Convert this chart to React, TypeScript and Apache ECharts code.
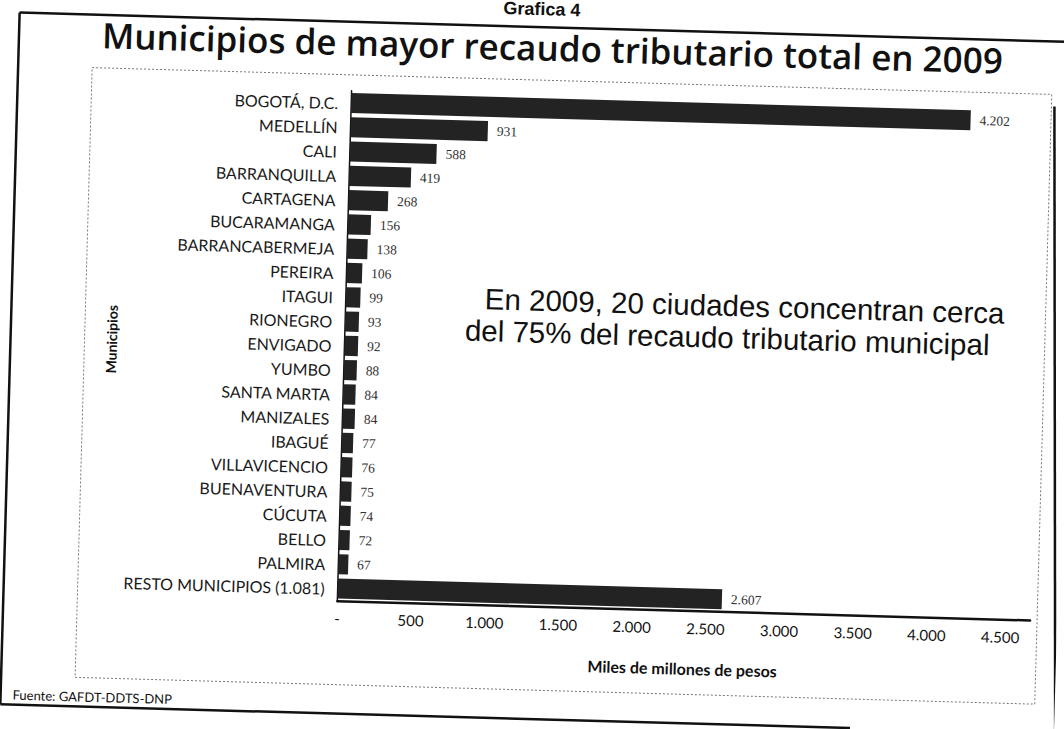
import React, { useEffect, useRef } from "react";
import * as echarts from "echarts";

const categories = [
  "BOGOTÁ, D.C.", "MEDELLÍN", "CALI", "BARRANQUILLA", "CARTAGENA", "BUCARAMANGA",
  "BARRANCABERMEJA", "PEREIRA", "ITAGUI", "RIONEGRO", "ENVIGADO", "YUMBO",
  "SANTA MARTA", "MANIZALES", "IBAGUÉ", "VILLAVICENCIO", "BUENAVENTURA", "CÚCUTA",
  "BELLO", "PALMIRA", "RESTO MUNICIPIOS (1.081)",
];
const values = [4202, 931, 588, 419, 268, 156, 138, 106, 99, 93, 92, 88, 84, 84, 77, 76, 75, 74, 72, 67, 2607];
const xTicks = [0, 500, 1000, 1500, 2000, 2500, 3000, 3500, 4000, 4500];

const fmt = (v: number) => (v === 0 ? "-" : String(v).replace(/\B(?=(\d{3})+(?!\d))/g, "."));

export default function App() {
  const ref = useRef<HTMLDivElement>(null);
  useEffect(() => {
    if (!ref.current) return;
    const chart = echarts.init(ref.current, null, { renderer: "svg" });
    chart.setOption({
      animation: false,
      backgroundColor: "#ffffff",
      grid: { left: 344, top: 96, width: 693, height: 510, containLabel: false },
      xAxis: {
        type: "value",
        min: 0,
        max: 4700,
        interval: 500,
        name: "Miles de millones de pesos",
        nameLocation: "middle",
        nameGap: 50,
        nameTextStyle: { fontFamily: "Lato", fontWeight: "bold", fontSize: 16, color: "#111" },
        axisLine: { show: true, lineStyle: { color: "#111", width: 2.5 } },
        axisTick: { show: false },
        splitLine: { show: false },
        axisLabel: {
          margin: 10,
          fontFamily: "Lato",
          fontSize: 15,
          color: "#111",
          formatter: (v: number) => (xTicks.indexOf(v) >= 0 ? fmt(v) : ""),
        },
      },
      yAxis: {
        type: "category",
        inverse: true,
        data: categories,
        name: "Municipios",
        nameLocation: "middle",
        nameGap: 226,
        nameRotate: 90,
        nameTextStyle: { fontFamily: "Lato", fontWeight: "bold", fontSize: 14, color: "#111" },
        axisLine: { show: true, lineStyle: { color: "#111", width: 1.5 } },
        axisTick: { show: false },
        axisLabel: { margin: 13, fontFamily: "Lato", fontSize: 16, color: "#1a1a1a" },
      },
      series: [
        {
          type: "bar",
          data: values,
          barCategoryGap: "17%",
          itemStyle: { color: "#232323" },
          label: {
            show: true,
            position: "right",
            distance: 9,
            fontFamily: "Liberation Serif",
            fontSize: 13.5,
            color: "#333",
            formatter: (p: any) => fmt(p.value),
          },
        },
      ],
      graphic: [
        { type: "text", left: "center", top: 0, style: { text: "Grafica 4", font: "bold 18px 'Liberation Sans'", fill: "#111" } },
        { type: "line", shape: { x1: 10, y1: 27, x2: 1056, y2: 27 }, style: { stroke: "#111", lineWidth: 2.5 } },
        { type: "line", shape: { x1: 10, y1: 27, x2: 10, y2: 719 }, style: { stroke: "#111", lineWidth: 2.5 } },
        { type: "line", shape: { x1: 10, y1: 719, x2: 860, y2: 719 }, style: { stroke: "#111", lineWidth: 2.5 } },
        { type: "line", shape: { x1: 1047, y1: 92, x2: 1066, y2: 745 }, style: { stroke: "#111", lineWidth: 2.5 } },
        {
          type: "text",
          x: 93,
          y: 47,
          style: {
            text: "Municipios de mayor recaudo tributario total en 2009",
            font: "600 35px 'Open Sans'",
            fill: "#111",
            verticalAlign: "middle",
          },
        },
        {
          type: "rect",
          shape: { x: 84, y: 80, width: 960, height: 610 },
          style: { fill: "none", stroke: "#777", lineWidth: 1, lineDash: [2, 2] },
        },
        {
          type: "text",
          x: 483,
          y: 300,
          style: {
            text: "En 2009, 20 ciudades concentran cerca",
            font: "29.5px 'Liberation Sans'",
            fill: "#111",
            verticalAlign: "middle",
          },
        },
        {
          type: "text",
          x: 464,
          y: 332,
          style: {
            text: "del 75% del recaudo tributario municipal",
            font: "29.5px 'Liberation Sans'",
            fill: "#111",
            verticalAlign: "middle",
          },
        },
        {
          type: "text",
          x: 22,
          y: 709,
          style: { text: "Fuente: GAFDT-DDTS-DNP", font: "13px Lato", fill: "#111", verticalAlign: "middle" },
        },
      ],
    });
    return () => chart.dispose();
  }, []);
  return (
    <div
      ref={ref}
      style={{
        position: "absolute",
        left: 0,
        top: 0,
        width: 1064,
        height: 729,
        transform: "rotate(1.6deg)",
        transformOrigin: "532px 365px",
      }}
    />
  );
}
